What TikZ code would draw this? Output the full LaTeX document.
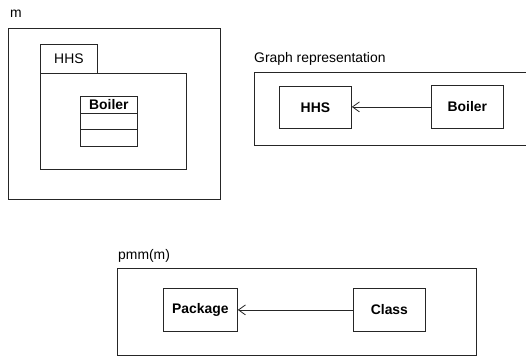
\documentclass[tikz,border=0pt]{standalone}
\usepackage{fontspec}
\setmainfont{Liberation Sans}
\usetikzlibrary{arrows.meta}
\tikzset{
  box/.style={draw=black!85, line width=0.8pt, rectangle, inner sep=0pt, anchor=north west},
  lbl/.style={anchor=base west, inner sep=0pt, font=\fontsize{13.9}{16}\selectfont},
  txt/.style={font=\fontsize{13.9}{16}\selectfont},
  btxt/.style={font=\fontsize{13.9}{16}\selectfont\bfseries},
  dep/.style={draw=black!85, line width=0.8pt, -{Straight Barb[length=7pt,width=10pt,line width=0.8pt]}}
}
\begin{document}
\begin{tikzpicture}[x=1pt,y=-1pt]
\useasboundingbox (0,0) rectangle (526,356);
\clip (0,0) rectangle (526,356);
% model m
\node[lbl] (mlbl) at (10,17) {m};
\node[box, minimum width=212pt, minimum height=171pt] (mbox) at (8,28) {};
\node[box, txt, minimum width=57pt, minimum height=29pt] (hhstab) at (40,44) {};
\node[txt] at (hhstab.center) {HHS};
\node[box, minimum width=146pt, minimum height=96pt] (hhsbody) at (40,73) {};
\node[box, btxt, minimum width=57pt, minimum height=17pt] (boilhead) at (80,96) {};
\node[btxt, inner sep=0pt] at (boilhead.center) {Boiler};
\node[box, minimum width=57pt, minimum height=16pt] (boilattr) at (80,113) {};
\node[box, minimum width=57pt, minimum height=17pt] (boilops) at (80,129) {};
% graph representation
\node[lbl] (glbl) at (254,62) {Graph representation};
\node[box, minimum width=280pt, minimum height=73pt] (gbox) at (254,72) {};
\node[box, minimum width=72pt, minimum height=42pt] (ghhs) at (279,86) {};
\node[btxt] at (ghhs.center) {HHS};
\node[box, minimum width=72pt, minimum height=43pt] (gboiler) at (431,85) {};
\node[btxt] at (gboiler.center) {Boiler};
\draw[dep] (gboiler.west) -- (ghhs.east |- gboiler.west);
% pmm(m)
\node[lbl] (plbl) at (118,259) {pmm(m)};
\node[box, minimum width=359pt, minimum height=87pt] (pbox) at (117,268) {};
\node[box, minimum width=74pt, minimum height=43pt] (ppkg) at (163,288) {};
\node[btxt] at (ppkg.center) {Package};
\node[box, minimum width=72pt, minimum height=43pt] (pcls) at (353,288) {};
\node[btxt] at (pcls.center) {Class};
\draw[dep] (pcls.west) -- (ppkg.east);
\end{tikzpicture}
\end{document}
